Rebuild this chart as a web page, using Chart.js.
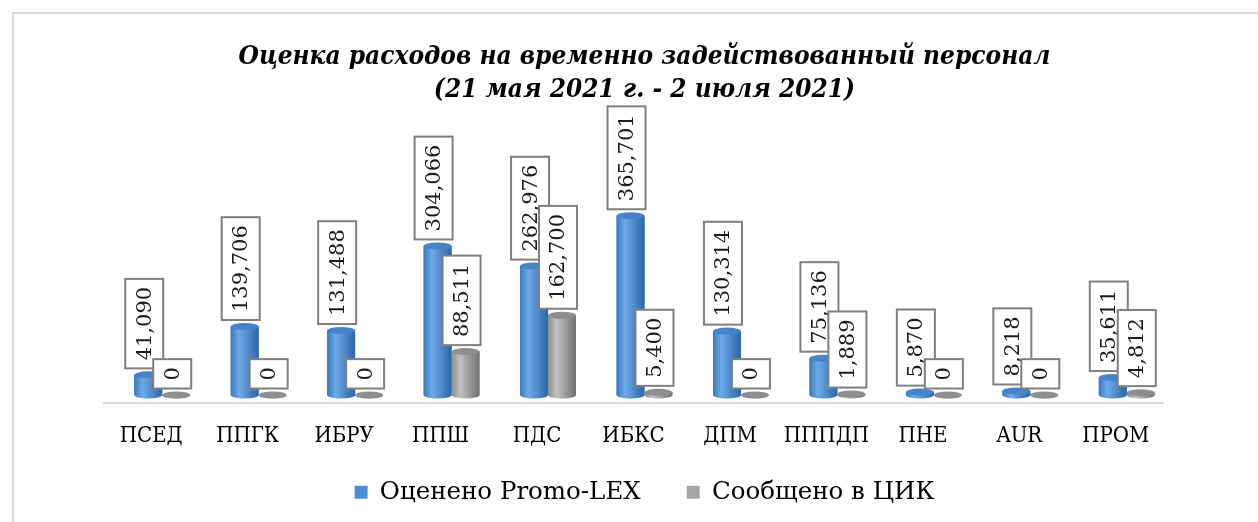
<!DOCTYPE html>
<html>
<head>
<meta charset="utf-8">
<script src="https://cdn.jsdelivr.net/npm/chart.js@4.4.0/dist/chart.umd.min.js"></script>
<style>
    html, body { margin: 0; padding: 0; background: #fff; overflow: hidden; }
    .marco { position: absolute; left: 12px; top: 12px; width: 1400px; height: 700px; border: 2px solid #d9d9d9; box-sizing: border-box; }
    .contenedor { position: absolute; left: 0; top: 0; width: 1258px; height: 522px; }
</style>
</head>
<body>
<div class="marco"></div>
<div class="contenedor"><canvas id="graficaGastos"></canvas></div>
<script>
var categorias = ['ПСЕД', 'ППГК', 'ИБРУ', 'ППШ', 'ПДС', 'ИБКС', 'ДПМ', 'ПППДП', 'ПНЕ', 'AUR', 'ПРОМ'];
var estimado = [41090, 139706, 131488, 304066, 262976, 365701, 130314, 75136, 5870, 8218, 35611];
var reportado = [0, 0, 0, 88511, 162700, 5400, 0, 1889, 0, 0, 4812];
var nombres = ['Оценено Promo-LEX', 'Сообщено в ЦИК'];
var titulo = ['Оценка расходов на временно задействованный персонал', '(21 мая 2021 г. - 2 июля 2021)'];

// tonos del cilindro: borde izq, brillo, borde der, tapa
var tonos = [
    ['#3a78c2', '#6eaae6', '#2c64a8', '#4783c9'],
    ['#8a8a8a', '#c2c2c2', '#707070', '#8e8e8e']
];

var serif = '"DejaVu Serif", serif';
var serifCond = '"DejaVu Serif Condensed", "DejaVu Serif", serif';

var ejeBase = {
    id: 'ejeBase',
    beforeDatasetsDraw: function(chart) {
        var ctx = chart.ctx, a = chart.chartArea;
        ctx.save();
        ctx.strokeStyle = '#d9d9d9';
        ctx.lineWidth = 2;
        ctx.beginPath();
        ctx.moveTo(a.left - 11, a.bottom + 8);
        ctx.lineTo(a.right - 11, a.bottom + 8);
        ctx.stroke();
        ctx.restore();
    }
};

// la leyenda queda un poco mas arriba que su caja
var subirLeyenda = {
    id: 'subirLeyenda',
    afterLayout: function(chart) {
        chart.legend.top -= 21;
        chart.legend.bottom -= 21;
    }
};

var cilindros = {
    id: 'cilindros',
    afterDatasetsDraw: function(chart) {
        var ctx = chart.ctx;
        chart.data.datasets.forEach(function(ds, di) {
            var t = tonos[di];
            chart.getDatasetMeta(di).data.forEach(function(bar) {
                var rx = bar.width / 2, ry = 3.5;
                var izq = bar.x - rx, der = bar.x + rx;
                var g = ctx.createLinearGradient(izq, 0, der, 0);
                g.addColorStop(0, t[0]);
                g.addColorStop(0.3, t[1]);
                g.addColorStop(1, t[2]);
                ctx.save();
                ctx.fillStyle = g;
                ctx.beginPath();
                ctx.moveTo(izq, bar.y);
                ctx.lineTo(izq, bar.base);
                ctx.ellipse(bar.x, bar.base, rx, ry, 0, Math.PI, 0, true);
                ctx.lineTo(der, bar.y);
                ctx.closePath();
                ctx.fill();
                ctx.fillStyle = t[3];
                ctx.beginPath();
                ctx.ellipse(bar.x, bar.y, rx, ry, 0, 0, Math.PI * 2);
                ctx.fill();
                ctx.restore();
            });
        });
    }
};

var etiquetas = {
    id: 'etiquetas',
    afterDatasetsDraw: function(chart) {
        var ctx = chart.ctx;
        chart.data.datasets.forEach(function(ds, di) {
            chart.getDatasetMeta(di).data.forEach(function(bar, i) {
                var txt = ds.data[i].toLocaleString('en-US');
                ctx.save();
                ctx.font = '21px ' + serif;
                var largo = ctx.measureText(txt).width + 16;
                var grosor = 38;
                var cx = bar.x - 4;
                var abajo = bar.y - 3.5 - 3;
                ctx.fillStyle = '#fff';
                ctx.strokeStyle = '#7f7f7f';
                ctx.lineWidth = 2;
                ctx.fillRect(cx - grosor / 2, abajo - largo, grosor, largo);
                ctx.strokeRect(cx - grosor / 2, abajo - largo, grosor, largo);
                ctx.translate(cx, abajo - largo / 2);
                ctx.rotate(-Math.PI / 2);
                ctx.fillStyle = '#1a1a1a';
                ctx.textAlign = 'center';
                ctx.textBaseline = 'middle';
                ctx.fillText(txt, 0, 1);
                ctx.restore();
            });
        });
    }
};

document.addEventListener("DOMContentLoaded", function() {
    var ctx = document.getElementById("graficaGastos").getContext("2d");
    var grafica = new Chart(ctx, {
        type: "bar",
        data: {
            labels: categorias,
            datasets: [{
                label: nombres[0],
                data: estimado,
                backgroundColor: '#4d8fd6',
                borderWidth: 0
            }, {
                label: nombres[1],
                data: reportado,
                backgroundColor: '#a6a6a6',
                borderWidth: 0
            }]
        },
        options: {
            responsive: true,
            maintainAspectRatio: false,
            animation: false,
            categoryPercentage: 0.58,
            barPercentage: 1,
            layout: {
                padding: { left: 114, right: 83, top: 0, bottom: -13.5 }
            },
            scales: {
                x: {
                    grid: { display: false, drawTicks: false },
                    border: { display: false },
                    ticks: {
                        color: '#000',
                        font: { family: serifCond, size: 22 },
                        labelOffset: -11,
                        padding: 28,
                        maxRotation: 0,
                        autoSkip: false
                    },
                    afterFit: function(scale) { scale.height = 60; }
                },
                y: {
                    display: false,
                    min: 0,
                    max: 561000
                }
            },
            plugins: {
                title: {
                    display: true,
                    text: titulo,
                    color: '#000',
                    font: { family: serifCond, size: 26, weight: 'bold', style: 'italic', lineHeight: '33px' },
                    padding: { top: 41, bottom: 13 }
                },
                legend: {
                    position: 'bottom',
                    labels: {
                        color: '#000',
                        boxWidth: 13,
                        boxHeight: 13,
                        padding: 46,
                        font: { family: serif, size: 24.5 }
                    }
                },
                tooltip: { enabled: false }
            }
        },
        plugins: [ejeBase, subirLeyenda, cilindros, etiquetas]
    });
});
</script>
</body>
</html>
